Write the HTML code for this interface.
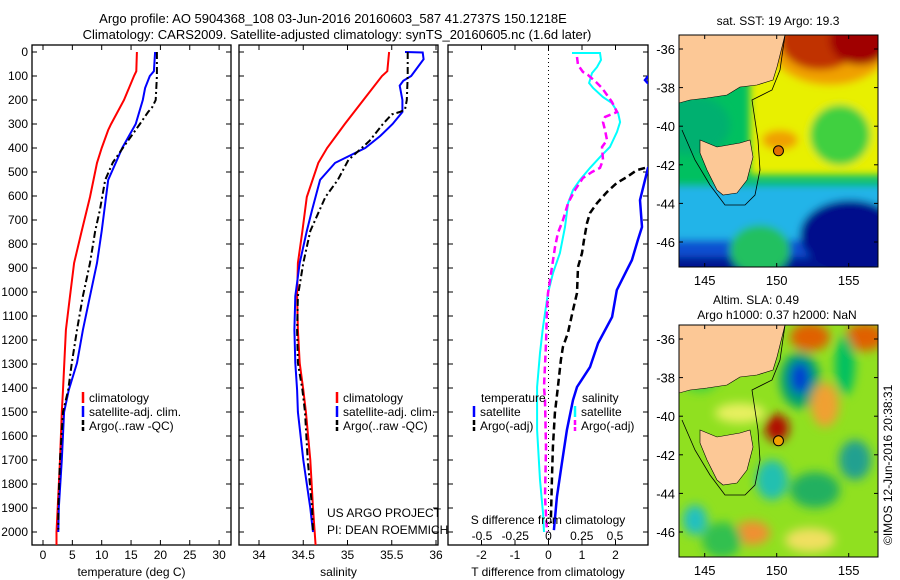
<!DOCTYPE html>
<html><head><meta charset="utf-8">
<style>
html,body{margin:0;padding:0;background:#fff;}
svg{display:block;font-family:"Liberation Sans",sans-serif;}
text{fill:#000;}
</style></head>
<body>
<svg id="fig" width="900" height="580" viewBox="0 0 900 580" xmlns="http://www.w3.org/2000/svg">
<defs>
<clipPath id="c1"><rect x="32" y="45" width="199" height="500"/></clipPath>
<clipPath id="c2"><rect x="239" y="45" width="199" height="500"/></clipPath>
<clipPath id="c3"><rect x="448" y="45" width="200" height="500"/></clipPath>
<clipPath id="cm1"><rect x="679" y="35" width="199" height="232"/></clipPath>
<clipPath id="cm2"><rect x="679" y="325" width="199" height="232"/></clipPath>
<filter id="bl" x="-50%" y="-50%" width="200%" height="200%"><feGaussianBlur stdDeviation="5"/></filter>
<filter id="bl2" x="-50%" y="-50%" width="200%" height="200%"><feGaussianBlur stdDeviation="4"/></filter>
</defs>
<text x="333" y="23" font-size="13" text-anchor="middle">Argo profile: AO 5904368_108 03-Jun-2016 20160603_587 41.2737S 150.1218E</text>
<text x="337" y="39" font-size="13" text-anchor="middle">Climatology: CARS2009. Satellite-adjusted climatology: synTS_20160605.nc (1.6d later)</text>
<g id="axes"></g>
<g id="maps"></g>
<text transform="translate(892,545) rotate(-90)" font-size="12">©IMOS 12-Jun-2016 20:38:31</text>
</svg>
<script>
// ---- data (depth in m) ----
const depthTicks=[0,100,200,300,400,500,600,700,800,900,1000,1100,1200,1300,1400,1500,1600,1700,1800,1900,2000];
const tempTicks=[0,5,10,15,20,25,30];
const salTicks=[34,34.5,35,35.5,36];
const salTickLabels=["34","34.5","35","35.5","36"];
const tdTicks=[-2,-1,0,1,2];
const sdTicks=[-0.5,-0.25,0,0.25,0.5];
const sdTickLabels=["-0.5","-0.25","0","0.25","0.5"];

const climTdepth=[0,80,100,200,300,325,400,462,604,746,879,1017,1158,1408,1500,1700,1900,2000,2055];
const climT=[16.0,15.9,15.5,13.8,11.6,11.1,10.0,9.2,8.0,6.6,5.3,4.6,3.9,3.4,3.2,2.9,2.5,2.3,2.3];
const satTdepth=[0,80,100,150,200,300,400,450,533,746,879,1017,1158,1296,1408,1500,1700,1900,2000];
const satT=[19.1,18.9,18.2,17.4,17.0,15.8,13.5,12.6,11.1,10.0,9.2,8.0,6.8,5.8,4.4,3.6,3.2,2.7,2.6];
const argoTdepth=[0,100,200,230,250,300,400,460,533,658,746,879,1017,1158,1296,1408,1500,1700,1900,1990];
const argoT=[19.4,19.4,19.2,18.6,17.9,16.5,13.6,11.9,10.6,9.7,8.9,8.0,6.8,5.8,4.9,4.3,3.4,2.9,2.6,2.6];

const climSdepth=[0,80,100,200,300,325,400,462,604,746,879,1017,1158,1296,1408,1500,1700,1900,2055];
const climS=[35.47,35.45,35.39,35.18,34.97,34.92,34.77,34.67,34.54,34.49,34.44,34.43,34.44,34.46,34.50,34.53,34.58,34.61,34.64];
const satSdepth=[0,2,30,60,100,120,140,200,250,300,350,400,462,533,658,746,879,1017,1158,1296,1408,1500,1700,1900,2000];
const satS=[35.65,35.85,35.86,35.80,35.72,35.63,35.59,35.62,35.62,35.51,35.37,35.20,34.86,34.69,34.60,34.54,34.46,34.41,34.40,34.41,34.43,34.44,34.50,34.58,34.61];
const argoSdepth=[0,100,200,240,250,260,300,370,400,450,533,604,746,879,1017,1158,1296,1408,1500,1700,1900,2000];
const argoS=[35.68,35.68,35.67,35.65,35.59,35.50,35.40,35.25,35.16,35.01,34.89,34.75,34.58,34.50,34.44,34.43,34.44,34.49,34.52,34.55,34.60,34.61];

const dTsatDepth=[470,483,617,729,783,867,908,992,1104,1213,1313,1396,1450,1575,1713,1854,1992];
const dTsat=[3.1,2.97,2.73,2.79,2.67,2.49,2.34,2.04,1.90,1.48,1.24,0.85,0.73,0.55,0.40,0.25,0.16];
const dTsatTopDepth=[90,105,117,128,140];
const dTsatTop=[3.1,2.95,2.88,2.95,3.1];
const dTargoDepth=[483,492,521,546,583,629,671,713,783,838,896,1004,1075,1171,1229,1283,1396,1504,1646,1783,1963];
const dTargo=[2.88,2.64,2.34,2.04,1.75,1.45,1.24,1.15,1.06,1.0,0.88,0.85,0.73,0.58,0.43,0.37,0.28,0.19,0.13,0.10,0.07];
const dSsatDepth=[4,4,33,63,88,129,150,188,213,254,292,333,396,438,483,533,575,629,729,838,921,1004,1146,1254,1396,1575,1783,1921,2000];
const dSsat=[0.177,0.387,0.395,0.365,0.327,0.305,0.335,0.41,0.477,0.523,0.538,0.515,0.462,0.387,0.312,0.237,0.184,0.147,0.124,0.086,0.034,-0.004,-0.041,-0.064,-0.086,-0.086,-0.064,-0.041,-0.034];
const dSargoDepth=[21,54,83,96,129,150,208,250,271,292,325,367,396,450,483,500,525,575,629,700,754,813,896,1004,1075,1213,1396,1450,1646,1854,2000];
const dSargo=[0.214,0.222,0.259,0.297,0.365,0.402,0.477,0.515,0.425,0.41,0.425,0.44,0.402,0.41,0.387,0.327,0.259,0.199,0.147,0.109,0.071,0.049,0.026,-0.004,-0.011,-0.019,-0.034,-0.026,-0.019,-0.026,-0.011];

const mapLonTicks=[145,150,155];
const mapLatTicks=[-36,-38,-40,-42,-44,-46];
const argoLon=150.1218, argoLat=-41.2737;

// ---- scales ----
const yD=d=>52+d*0.24;
const xT=t=>43+t*5.87;
const xS=s=>259+(s-34)*88.5;
const xDT=t=>548.5+t*33.5;
const xDS=s=>548.5+s*133;
const NS="http://www.w3.org/2000/svg";
const axes=document.getElementById('axes');
function mk(tag,attrs,parent){const e=document.createElementNS(NS,tag);for(const k in attrs)e.setAttribute(k,attrs[k]);(parent||axes).appendChild(e);return e;}
function txt(x,y,s,anchor,size,parent){const t=mk('text',{x:x,y:y,'font-size':size||12,'text-anchor':anchor||'middle'},parent);t.textContent=s;return t;}

function line(xs,ds,xf,color,w,dash,clip,name){
  let p='';for(let i=0;i<xs.length;i++){p+=(i?'L':'M')+xf(xs[i]).toFixed(1)+','+yD(ds[i]).toFixed(1);}
  const e=mk('path',{d:p,fill:'none',stroke:color,'stroke-width':w,'clip-path':'url(#'+clip+')'});
  if(dash)e.setAttribute('stroke-dasharray',dash);
  
  
}

function panel(x0,w,xticks,labels,xf,title,pname,leftLabels){
  const g=mk('g',{});
  
  
  mk('rect',{x:x0,y:45,width:w,height:500,fill:'none',stroke:'#000','stroke-width':1.3},g);
  depthTicks.forEach(d=>{
    mk('line',{x1:x0,x2:x0+5,y1:yD(d),y2:yD(d),stroke:'#000'},g);
    mk('line',{x1:x0+w-5,x2:x0+w,y1:yD(d),y2:yD(d),stroke:'#000'},g);
    if(leftLabels){const t=txt(28,yD(d)+4,String(d),'end',12,g);}
  });
  xticks.forEach((v,i)=>{
    const x=xf(v);
    mk('line',{x1:x,x2:x,y1:45,y2:50,stroke:'#000'},g);
    mk('line',{x1:x,x2:x,y1:540,y2:545,stroke:'#000'},g);
    const t=txt(x,559,labels[i],'middle',12,g);
    
    
  });
  const tt=txt(x0+w/2,576,title,'middle',12,g);
  
  
}
panel(32,199,tempTicks,tempTicks.map(String),xT,'temperature (deg C)','temperature-panel',true);
panel(239,199,salTicks,salTickLabels,xS,'salinity','salinity-panel',false);
panel(448,200,tdTicks,tdTicks.map(String),xDT,'T difference from climatology','difference-panel',false);

mk('line',{x1:548.5,x2:548.5,y1:46,y2:544,stroke:'#000','stroke-width':1,'stroke-dasharray':'1,3',});

line(climT,climTdepth,xT,'#ff0000',2,null,'c1','temp-climatology-line');
line(satT,satTdepth,xT,'#0000ff',2,null,'c1','temp-satellite-line');
line(argoT,argoTdepth,xT,'#000',2,'7,3,2,3','c1','temp-argo-line');
line(climS,climSdepth,xS,'#ff0000',2,null,'c2','sal-climatology-line');
line(satS,satSdepth,xS,'#0000ff',2,null,'c2','sal-satellite-line');
line(argoS,argoSdepth,xS,'#000',2,'7,3,2,3','c2','sal-argo-line');
line(dSsat,dSsatDepth,xDS,'#00ffff',2,null,'c3','sdiff-satellite-line');
line(dSargo,dSargoDepth,xDS,'#ff00ff',2.5,'7,4','c3','sdiff-argo-line');
line(dTargo,dTargoDepth,xDT,'#000',2.5,'7,4','c3','tdiff-argo-line');
line(dTsat,dTsatDepth,xDT,'#0000ff',2.5,null,'c3','tdiff-satellite-line');
line(dTsatTop,dTsatTopDepth,xDT,'#0000ff',2.5,null,'c3','tdiff-satellite-top-line');

const sl=txt(548,524,'S difference from climatology','middle',12);


sdTicks.forEach((v,i)=>{const t=txt(xDS(v),540,sdTickLabels[i],'middle',12);

});

function legend(x,y,color,label,dashed,name){
  const g=mk('g',{});
  
  
  mk('line',{x1:x,x2:x,y1:y-10,y2:y+1,stroke:color,'stroke-width':2.5,'stroke-dasharray':dashed?'5,2':'none'},g);
  txt(x+6,y,label,'start',12,g);
}
legend(83,402,'#ff0000','climatology',false,'legend-climatology');
legend(83,416,'#0000ff','satellite-adj. clim.',false,'legend-satellite');
legend(83,430,'#000','Argo(..raw -QC)',true,'legend-argo');
legend(337,402,'#ff0000','climatology',false,'legend-climatology-sal');
legend(337,416,'#0000ff','satellite-adj. clim.',false,'legend-satellite-sal');
legend(337,430,'#000','Argo(..raw -QC)',true,'legend-argo-sal');
txt(481,402,'temperature','start',12);
legend(474,416,'#0000ff','satellite',false,'legend-t-satellite');
legend(474,430,'#000','Argo(-adj)',true,'legend-t-argo');
txt(582,402,'salinity','start',12);
legend(575,416,'#00ffff','satellite',false,'legend-s-satellite');
legend(575,430,'#ff00ff','Argo(-adj)',true,'legend-s-argo');
txt(327,517,'US ARGO PROJECT','start',12);
txt(327,534,'PI: DEAN ROEMMICH','start',12);

// ---- maps ----
const maps=document.getElementById('maps');
const lonX=l=>704.7+(l-145)*14.4;
function mapFrame(y0,clip,name,kind){
  const latY=l=>y0+14+(-36-l)*19.3;
  const g=mk('g',{},maps);
  
  
  const c=mk('g',{'clip-path':'url(#'+clip+')'},g);
  const dy=y0-35;
  if(kind==='sst'){
    mk('rect',{x:679,y:y0,width:199,height:232,fill:'#00c060'},c);
    const b=mk('g',{filter:'url(#bl2)'},c);
    mk('rect',{x:660,y:y0+150,width:240,height:100,fill:'#20b4e8'},b);
    mk('rect',{x:660,y:y0+205,width:240,height:50,fill:'#0a50d0'},b);
    mk('rect',{x:660,y:y0+222,width:240,height:30,fill:'#001890'},b);
    mk('ellipse',{cx:850,cy:y0+200,rx:50,ry:35,fill:'#000c8c'},b);
    mk('ellipse',{cx:760,cy:y0+215,rx:30,ry:25,fill:'#20c060'},b);
    mk('rect',{x:750,y:y0-10,width:140,height:150,fill:'#e8f000'},b);
    mk('ellipse',{cx:840,cy:y0+100,rx:30,ry:30,fill:'#40d040'},b);
    mk('ellipse',{cx:830,cy:y0+10,rx:60,ry:40,fill:'#f0a000'},b);
    mk('ellipse',{cx:820,cy:y0+5,rx:40,ry:30,fill:'#c03000'},b);
    mk('ellipse',{cx:860,cy:y0+5,rx:30,ry:25,fill:'#a00000'},b);
    mk('ellipse',{cx:780,cy:y0+105,rx:18,ry:10,fill:'#f0a000'},b);
    mk('ellipse',{cx:690,cy:y0+90,rx:40,ry:30,fill:'#00b070'},b);
  } else {
    mk('rect',{x:679,y:y0,width:199,height:232,fill:'#90e020'},c);
    const b=mk('g',{filter:'url(#bl)'},c);
    const blobs=[[810,y0+12,20,14,'#e06000'],[865,y0+12,20,14,'#e06000'],[800,y0+55,20,28,'#00a070'],[800,y0+53,10,16,'#0040d0'],[825,y0+80,14,22,'#f0a030'],[845,y0+40,10,30,'#00c060'],[777,y0+103,12,14,'#b01000'],[772,y0+155,16,20,'#20c0b0'],[695,y0+195,12,15,'#20c0c0'],[855,y0+135,16,20,'#20a090'],[815,y0+165,25,18,'#20b060'],[752,y0+208,18,12,'#f09030'],[810,y0+215,25,12,'#f0e060'],[700,y0+45,22,22,'#40d040'],[740,y0+88,25,10,'#e8f060'],[722,y0+215,20,18,'#30c050']];
    blobs.forEach(o=>mk('ellipse',{cx:o[0],cy:o[1],rx:o[2],ry:o[3],fill:o[4]},b));
  }
  const land=mk('polygon',{points:[[679,35],[785,35],[777,67],[773,80],[757,85],[740,87],[727,95],[707,98],[690,100],[679,103]].map(p=>p[0]+','+(p[1]+dy)).join(' '),fill:'#fcc896',stroke:'#000','stroke-width':0.6},c);
  
  
  mk('polygon',{points:[[700,140],[717,147],[740,143],[750,140],[753,157],[747,180],[737,193],[723,195],[717,190],[707,170],[700,153]].map(p=>p[0]+','+(p[1]+dy)).join(' '),fill:'#fcc896',stroke:'#000','stroke-width':0.6,},c);
  mk('path',{d:'M785,35 L780,70 L772,90 L752,100 L758,140 L760,170 L755,195 L745,205 L725,205 L710,185 L695,160 L682,130'.replace(/(\d+),(\d+)/g,(m,a,b)=>a+','+(+b+dy)),fill:'none',stroke:'#000','stroke-width':0.8,},c);
  mk('circle',{cx:lonX(argoLon),cy:latY(argoLat),r:5,fill:kind==='sst'?'#e07000':'#f0a000',stroke:'#000','stroke-width':1,},c);
  mk('rect',{x:679,y:y0,width:199,height:232,fill:'none',stroke:'#000','stroke-width':1},g);
  mapLonTicks.forEach(l=>{const x=lonX(l);
    mk('line',{x1:x,x2:x,y1:y0,y2:y0+4,stroke:'#000'},g);
    mk('line',{x1:x,x2:x,y1:y0+228,y2:y0+232,stroke:'#000'},g);
    const t=txt(x,y0+250,String(l),'middle',13,g);
    
    });
  mapLatTicks.forEach(l=>{const y=latY(l);
    mk('line',{x1:679,x2:683,y1:y,y2:y,stroke:'#000'},g);
    mk('line',{x1:874,x2:878,y1:y,y2:y,stroke:'#000'},g);
    const t=txt(675,y+5,String(l),'end',13,g);
    
    });
  return g;
}
const g1=mapFrame(35,'cm1','sst-map','sst');
txt(778,25,'sat. SST: 19 Argo: 19.3','middle',12,g1);
const g2=mapFrame(325,'cm2','sla-map','sla');
txt(756,304,'Altim. SLA: 0.49','middle',12,g2);
txt(777,319,'Argo h1000: 0.37 h2000: NaN','middle',12,g2);
</script>
</body></html>
